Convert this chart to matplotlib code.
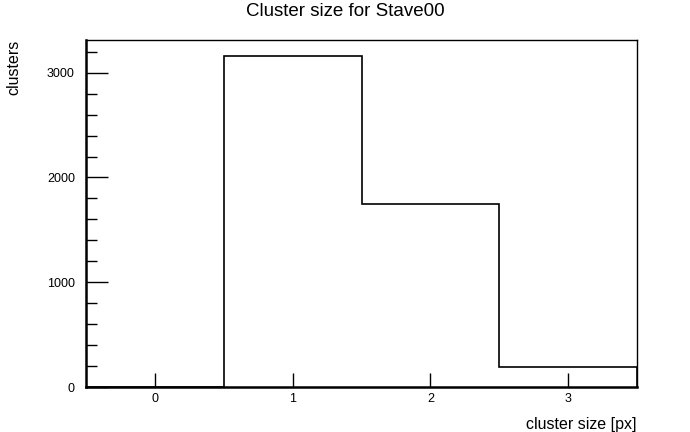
import matplotlib
matplotlib.use("Agg")
import matplotlib.pyplot as plt
from matplotlib.ticker import MultipleLocator
import numpy as np

plt.rcParams['font.family'] = ['Liberation Sans', 'DejaVu Sans']

bin_centers = [0, 1, 2, 3]
counts = [0, 3159, 1743, 195]
title = "Cluster size for Stave00"
xlabel = "cluster size [px]"
ylabel = "clusters"

fig = plt.figure(figsize=(6.9, 4.32), dpi=100)
ax = fig.add_axes([86/690, 45/432, 551/690, 347/432])

edges = np.array(bin_centers + [bin_centers[-1] + 1]) - 0.5
ax.stairs(counts, edges, color='black', linewidth=1.2)

ax.set_xlim(-0.5, 3.5)
ax.set_ylim(0, 3312)
ax.xaxis.set_major_locator(MultipleLocator(1))
ax.yaxis.set_major_locator(MultipleLocator(1000))
ax.yaxis.set_minor_locator(MultipleLocator(200))
ax.tick_params(axis='y', which='major', direction='in', length=16, width=1, labelsize=9, pad=8)
ax.tick_params(axis='y', which='minor', direction='in', length=8, width=1)
ax.tick_params(axis='x', which='major', direction='in', length=10, width=1, labelsize=9, pad=4)
ax.tick_params(axis='x', which='minor', bottom=False)
for s in ['left', 'bottom']:
    ax.spines[s].set_linewidth(1.8)
for s in ['top', 'right']:
    ax.spines[s].set_linewidth(1.0)

fig.text(345/690, 1 - 12/432, title, ha='center', va='center', fontsize=13.5)
fig.text(14/690, 1 - 67/432, ylabel, ha='center', va='center', rotation=90, fontsize=11.5)
fig.text(637/690, 1 - 424/432, xlabel, ha='right', va='center', fontsize=11.5)

fig.savefig("out.png", dpi=100)
